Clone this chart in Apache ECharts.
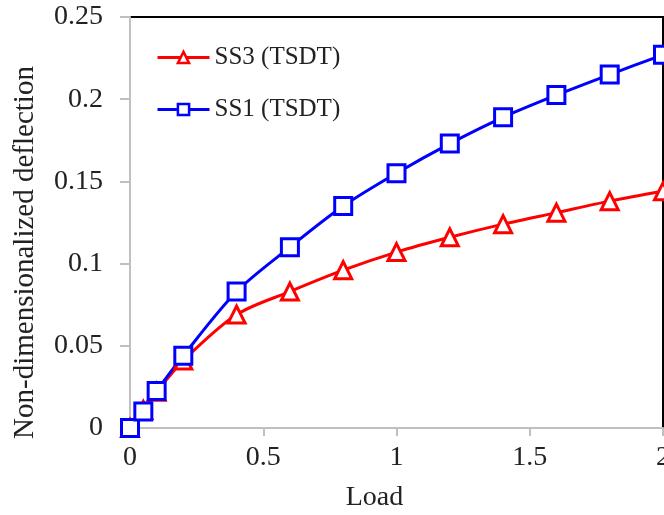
<!DOCTYPE html>
<html>
<head>
<meta charset="utf-8">
<script src="https://cdn.jsdelivr.net/npm/echarts@6/dist/echarts.min.js"></script>
<style>
  html, body { margin: 0; padding: 0; background: #fff; }
  #chart { width: 664px; height: 515px; }
</style>
</head>
<body>
<div id="chart"></div>
<script>
// load steps and deflection values
var loads = [0, 0.05, 0.1, 0.2, 0.4, 0.6, 0.8, 1.0, 1.2, 1.4, 1.6, 1.8, 2.0]
var ss3 = [0, 0.011, 0.022, 0.041, 0.069, 0.083, 0.096, 0.107, 0.116, 0.124, 0.131, 0.138, 0.144]
var ss1 = [0, 0.010, 0.0225, 0.044, 0.083, 0.110, 0.135, 0.155, 0.173, 0.189, 0.2025, 0.215, 0.227]

var pairs = function(ys) {
  return loads.map(function(x, i) { return [x, ys[i]] })
}

var font = 'Liberation Serif'
var chart = echarts.init(document.getElementById('chart'))

chart.setOption({
  animation: false,
  grid: {
    left: 130, top: 17, right: 1, bottom: 87,
    outerBoundsMode: 'none',
    show: true, borderColor: '#000', borderWidth: 2
  },
  legend: {
    orient: 'vertical',
    left: 151, top: 40,
    itemGap: 27,
    itemWidth: 52,
    itemHeight: 14,
    lineStyle: { width: 3 },
    itemStyle: { borderWidth: 2.5 },
    textStyle: { fontFamily: font, fontSize: 25, color: '#222' },
    data: ['SS3 (TSDT)', 'SS1 (TSDT)']
  },
  xAxis: {
    type: 'value',
    min: 0, max: 2, interval: 0.5,
    name: 'Load',
    nameLocation: 'middle',
    nameGap: 56,
    nameTextStyle: { fontFamily: font, fontSize: 28, color: '#222', padding: [0, 44, 0, 0] },
    axisLine: { lineStyle: { color: '#c0c0c0', width: 2 } },
    axisTick: { show: true, length: 8, lineStyle: { color: '#c0c0c0', width: 2 } },
    axisLabel: { fontFamily: font, fontSize: 28, color: '#222', margin: 16 },
    splitLine: { show: false }
  },
  yAxis: {
    type: 'value',
    min: 0, max: 0.25, interval: 0.05,
    name: 'Non-dimensionalized deflection',
    nameLocation: 'middle',
    nameGap: 90,
    nameTextStyle: { fontFamily: font, fontSize: 29, color: '#222', padding: [0, 60, 0, 0] },
    axisLine: { show: true, lineStyle: { color: '#c0c0c0', width: 2 } },
    axisTick: { show: true, length: 10, lineStyle: { color: '#c0c0c0', width: 2 } },
    axisLabel: { fontFamily: font, fontSize: 28, color: '#222', margin: 27 },
    splitLine: { show: false }
  },
  series: [
    {
      name: 'SS3 (TSDT)',
      type: 'line',
      smooth: 0.3,
      data: pairs(ss3),
      symbol: 'triangle',
      symbolSize: 17,
      color: '#ff0000',
      lineStyle: { width: 3, color: '#ff0000' },
      itemStyle: { color: '#fff', borderColor: '#ff0000', borderWidth: 3 }
    },
    {
      name: 'SS1 (TSDT)',
      type: 'line',
      smooth: 0.3,
      data: pairs(ss1),
      symbol: 'rect',
      symbolSize: 17,
      color: '#0000ff',
      lineStyle: { width: 3, color: '#0000ff' },
      itemStyle: { color: '#fff', borderColor: '#0000ff', borderWidth: 3 }
    }
  ]
})
</script>
</body>
</html>
